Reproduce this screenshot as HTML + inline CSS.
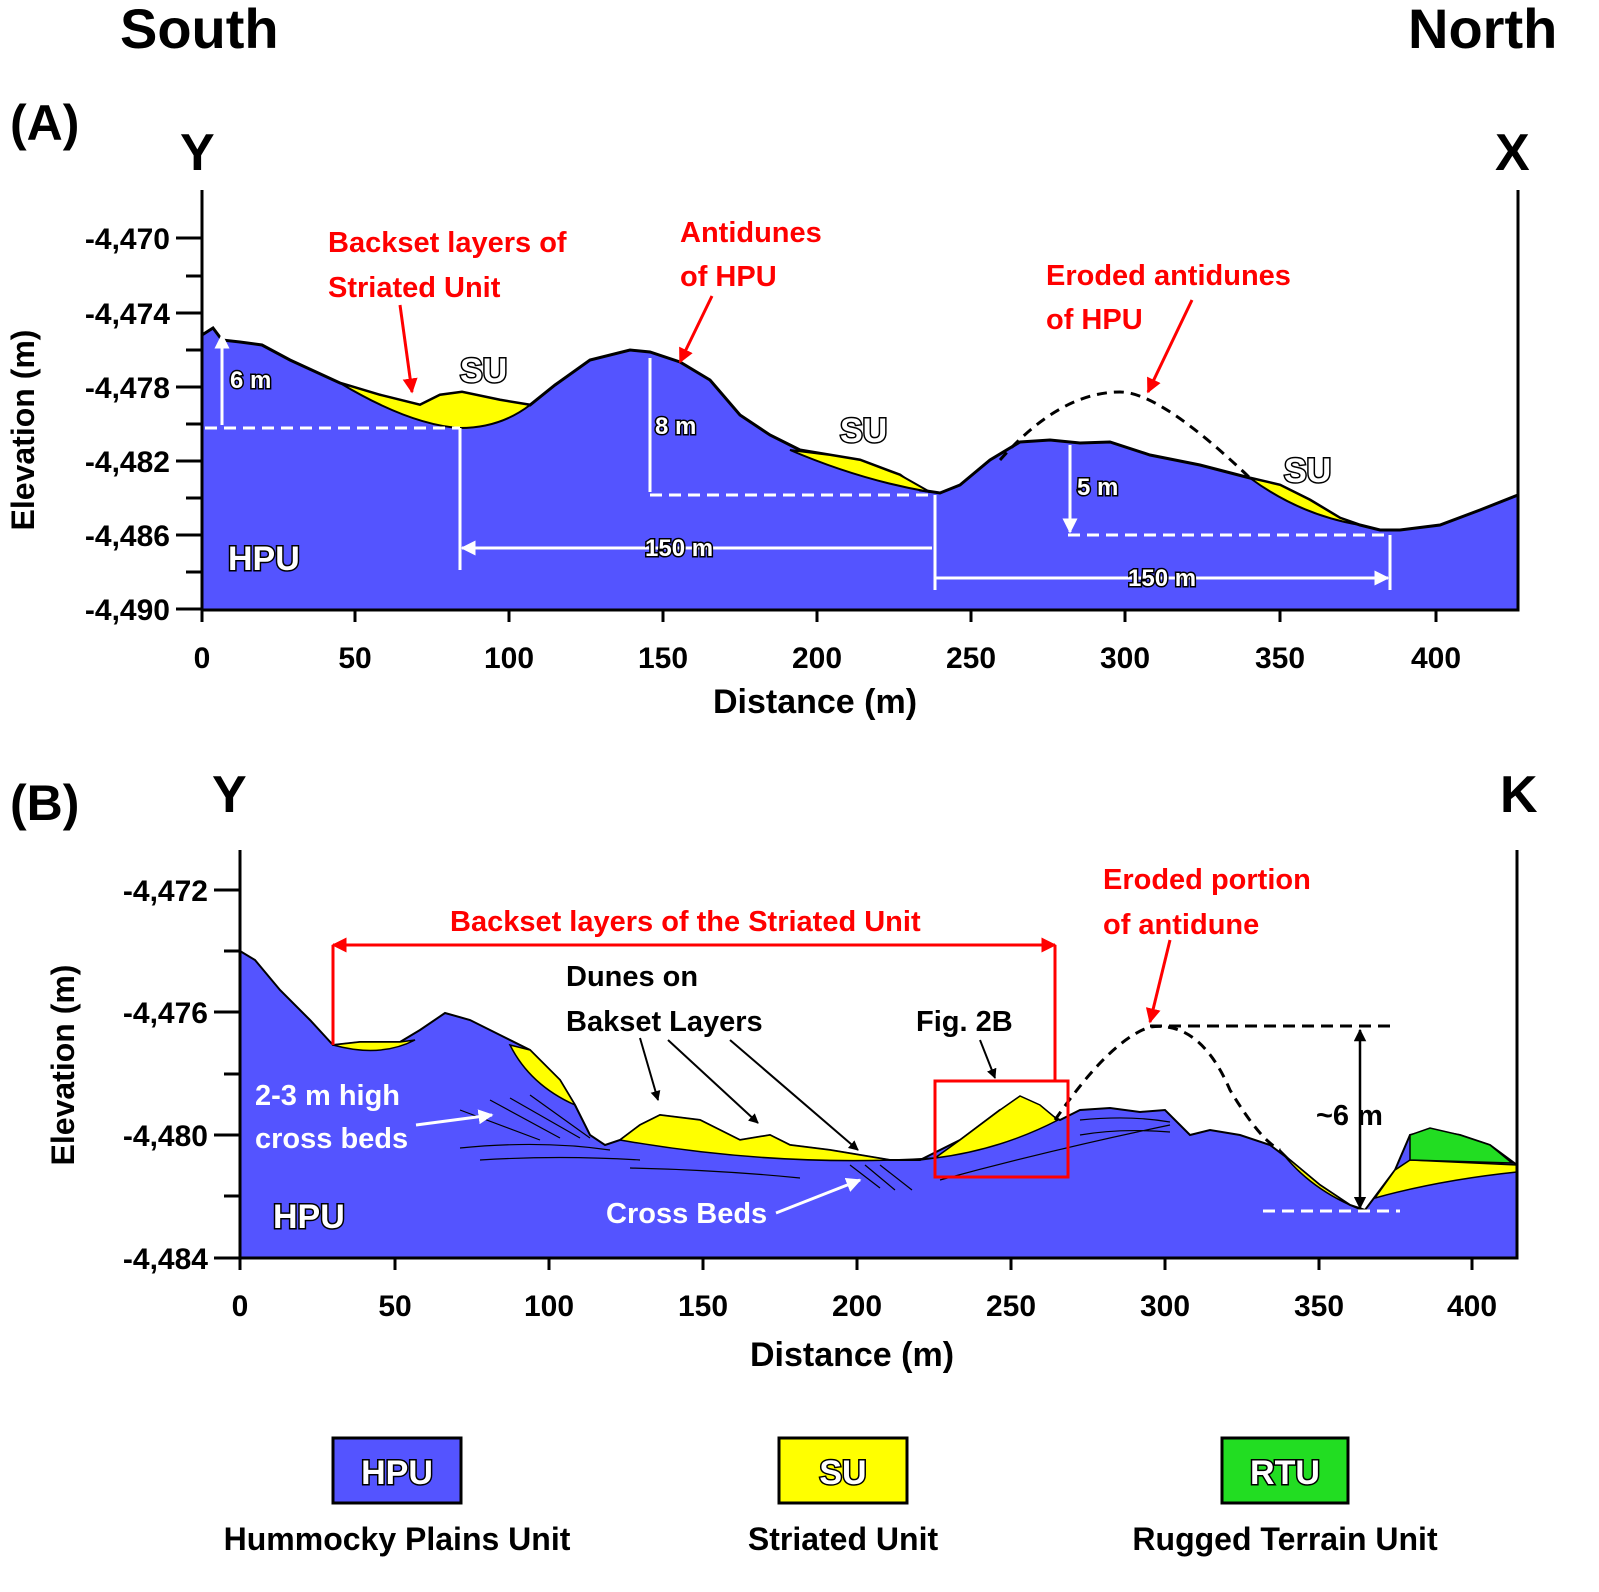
<!DOCTYPE html>
<html><head><meta charset="utf-8"><style>
html,body{margin:0;padding:0;background:#fff}
svg{display:block}
text{font-family:"Liberation Sans",sans-serif;font-weight:bold}
.t{font-size:34px;fill:#000}
.r{fill:#f00;font-size:29px}
.o{fill:#fff;stroke:#000;stroke-width:3;paint-order:stroke}
.w{fill:#fff}
</style></head><body>
<svg width="1599" height="1592" viewBox="0 0 1599 1592" xmlns="http://www.w3.org/2000/svg">
<defs>
<marker id="aw" viewBox="0 0 10 10" refX="9" refY="5" markerWidth="5" markerHeight="5" orient="auto-start-reverse"><path d="M0,0L10,5L0,10z" fill="#fff"/></marker>
<marker id="ar" viewBox="0 0 10 10" refX="9" refY="5" markerWidth="5" markerHeight="5" orient="auto-start-reverse"><path d="M0,0L10,5L0,10z" fill="#f00"/></marker>
<marker id="ab" viewBox="0 0 10 10" refX="9" refY="5" markerWidth="5" markerHeight="5" orient="auto-start-reverse"><path d="M0,0L10,5L0,10z" fill="#000"/></marker>
</defs>
<text x="120" y="48" font-size="56">South</text>
<text x="1408" y="48" font-size="56">North</text>
<text x="10" y="140" font-size="50">(A)</text>
<text x="180" y="170" font-size="52">Y</text>
<text x="1495" y="170" font-size="52">X</text>

<!-- Panel A -->
<path d="M202,335 L213,328 222,340 240,342 262,345 290,360 340,383 380,395 420,405 440,395 462,392 500,400 530,405 555,385 590,360 630,350 650,352 680,362 710,380 740,415 770,435 800,450 830,455 860,460 900,475 920,490 940,493 960,485 990,460 1020,442 1050,440 1080,443 1110,442 1150,455 1200,465 1250,478 1280,485 1310,500 1340,518 1360,525 1380,530 1400,530 1440,525 1480,510 1518,495 1518,610 202,610Z" fill="#5454ff" stroke="#000" stroke-width="3"/>
<path d="M340,383 380,395 420,405 440,395 462,392 500,400 530,405 Q500,428 460,428 Q410,425 340,383Z" fill="#ffff00" stroke="#000" stroke-width="2"/>
<path d="M790,450 830,455 860,460 900,475 930,492 Q860,480 790,450Z" fill="#ffff00" stroke="#000" stroke-width="2"/>
<path d="M1250,478 1280,485 1310,500 1340,518 1360,525 Q1300,515 1250,478Z" fill="#ffff00" stroke="#000" stroke-width="2"/>
<path d="M1000,460 Q1060,392 1120,392 Q1160,392 1250,478" fill="none" stroke="#000" stroke-width="3" stroke-dasharray="10,7"/>
<g stroke="#fff" stroke-width="3" fill="none">
<path d="M205,428H460M650,495H935M1068,535H1390" stroke-dasharray="12,7"/>
<path d="M460,428V570M935,495V590M1390,535V590"/>
<path d="M222,335V425M650,358V492M1070,445V532" marker-start="url(#aw)" marker-end="url(#aw)"/>
<path d="M462,548H932M935,578H1388" marker-start="url(#aw)" marker-end="url(#aw)"/>
</g>
<g stroke="#000" stroke-width="3" fill="none">
<path d="M202,190V610H1518V190"/>
<path d="M176,238H202M176,313H202M176,387H202M176,461H202M176,535H202M176,609H202M186,276H202M186,350H202M186,424H202M186,498H202M186,572H202"/>
<path d="M202,610V622M355,610V622M509,610V622M663,610V622M817,610V622M971,610V622M1125,610V622M1280,610V622M1436,610V622"/>
</g>
<g class="t" text-anchor="end"><text x="170" y="249" style="font-size:30px">-4,470</text><text x="170" y="324" style="font-size:30px">-4,474</text><text x="170" y="398" style="font-size:30px">-4,478</text><text x="170" y="472" style="font-size:30px">-4,482</text><text x="170" y="546" style="font-size:30px">-4,486</text><text x="170" y="620" style="font-size:30px">-4,490</text></g>
<g class="t" text-anchor="middle"><text x="202" y="668" style="font-size:30px">0</text><text x="355" y="668" style="font-size:30px">50</text><text x="509" y="668" style="font-size:30px">100</text><text x="663" y="668" style="font-size:30px">150</text><text x="817" y="668" style="font-size:30px">200</text><text x="971" y="668" style="font-size:30px">250</text><text x="1125" y="668" style="font-size:30px">300</text><text x="1280" y="668" style="font-size:30px">350</text><text x="1436" y="668" style="font-size:30px">400</text></g>
<text x="815" y="713" text-anchor="middle" class="t">Distance (m)</text>
<text transform="translate(34,430) rotate(-90)" text-anchor="middle" class="t" style="font-size:32px">Elevation (m)</text>
<text class="r" x="328" y="252">Backset layers of</text><text class="r" x="328" y="297">Striated Unit</text>
<text class="r" x="680" y="242">Antidunes</text><text class="r" x="680" y="286">of HPU</text>
<text class="r" x="1046" y="285">Eroded antidunes</text><text class="r" x="1046" y="329">of HPU</text>
<g stroke="#f00" stroke-width="3" fill="none"><path d="M400,305L412,392" marker-end="url(#ar)"/><path d="M712,296L680,362" marker-end="url(#ar)"/><path d="M1192,300L1148,392" marker-end="url(#ar)"/></g>
<g class="o" style="font-size:34px"><text x="460" y="382">SU</text><text x="840" y="442">SU</text><text x="1284" y="482">SU</text><text x="228" y="570">HPU</text></g>
<g class="o" style="font-size:24px"><text x="230" y="388">6 m</text><text x="655" y="434">8 m</text><text x="1077" y="495">5 m</text><text x="645" y="556">150 m</text><text x="1128" y="586">150 m</text></g>

<!-- Panel B -->
<text x="10" y="820" font-size="50">(B)</text>
<text x="212" y="812" font-size="52">Y</text>
<text x="1500" y="812" font-size="52">K</text>
<path d="M240,951 255,960 280,990 310,1020 333,1045 360,1042 400,1042 420,1030 445,1013 470,1020 500,1035 530,1050 560,1080 575,1105 590,1135 605,1145 620,1140 640,1125 660,1115 700,1120 740,1140 770,1135 790,1145 830,1150 860,1155 890,1160 920,1160 960,1140 1000,1110 1030,1105 1060,1120 1080,1110 1110,1108 1140,1112 1165,1110 1180,1125 1190,1135 1210,1130 1240,1135 1270,1145 1290,1160 1320,1185 1350,1205 1365,1210 1380,1190 1395,1170 1410,1135 1430,1130 1460,1135 1490,1145 1517,1165 1517,1258 240,1258Z" fill="#5454ff" stroke="#000" stroke-width="2"/>
<g fill="#ffff00" stroke="#000" stroke-width="1.5">
<path d="M333,1045 360,1042 400,1042 415,1040 Q380,1058 333,1045Z"/>
<path d="M510,1045 530,1050 560,1080 575,1105 Q530,1085 510,1045Z"/>
<path d="M620,1140 640,1125 660,1115 700,1120 740,1140 770,1135 790,1145 830,1150 860,1155 890,1160 920,1160 935,1158 Q780,1168 620,1140Z"/>
<path d="M935,1158 960,1140 1000,1110 1020,1096 1040,1105 1058,1120 Q1000,1150 935,1158Z"/>
<path d="M1280,1150 1290,1160 1320,1185 1350,1205 1362,1210 Q1310,1190 1280,1150Z"/>
<path d="M1375,1198 1395,1170 1410,1160 1517,1165 1517,1172 Q1440,1180 1375,1198Z"/>
</g>
<path d="M1410,1160 1410,1135 1430,1128 1460,1135 1490,1145 1512,1163Z" fill="#22dd22" stroke="#000" stroke-width="1.5"/>
<g stroke="#000" stroke-width="1.2" fill="none">
<path d="M460,1148Q540,1140 610,1150M480,1160Q560,1155 640,1160M630,1168Q720,1170 800,1178M940,1180Q1050,1150 1170,1125M1080,1135Q1120,1128 1170,1132M1080,1120Q1130,1115 1170,1122M490,1100L560,1138M510,1098L580,1138M530,1095L590,1138M460,1110L540,1140M850,1165L880,1188M865,1165L895,1190M880,1165L912,1190"/>
</g>
<path d="M1055,1120 Q1110,1040 1150,1027 Q1200,1020 1230,1090 Q1260,1140 1280,1150" fill="none" stroke="#000" stroke-width="3" stroke-dasharray="10,7"/>
<path d="M1150,1026H1392" stroke="#000" stroke-width="3" stroke-dasharray="12,7"/>
<path d="M1263,1211H1400" stroke="#fff" stroke-width="3" stroke-dasharray="12,7"/>
<path d="M1360,1030V1208" stroke="#000" stroke-width="2.5" marker-start="url(#ab)" marker-end="url(#ab)"/>
<rect x="935" y="1081" width="133" height="96" fill="none" stroke="#f00" stroke-width="3"/>
<g stroke="#f00" stroke-width="3" fill="none"><path d="M333,945H1055" marker-start="url(#ar)" marker-end="url(#ar)"/><path d="M333,945V1045M1055,945V1081"/><path d="M1170,940L1150,1022" marker-end="url(#ar)"/></g>
<text class="r" x="450" y="931">Backset layers of the Striated Unit</text>
<text class="r" x="1103" y="889">Eroded portion</text><text class="r" x="1103" y="934">of antidune</text>
<g style="font-size:29px" fill="#000"><text x="566" y="986">Dunes on</text><text x="566" y="1031">Bakset Layers</text><text x="916" y="1031">Fig. 2B</text><text x="1316" y="1125">~6 m</text></g>
<g stroke="#000" stroke-width="2" fill="none"><path d="M640,1038L658,1100" marker-end="url(#ab)"/><path d="M668,1040L758,1123" marker-end="url(#ab)"/><path d="M730,1040L858,1150" marker-end="url(#ab)"/><path d="M980,1040L995,1078" marker-end="url(#ab)"/></g>
<g class="w" style="font-size:29px"><text x="255" y="1105">2-3 m high</text><text x="255" y="1148">cross beds</text><text x="606" y="1223">Cross Beds</text></g>
<g stroke="#fff" stroke-width="3" fill="none"><path d="M416,1125L492,1115" marker-end="url(#aw)"/><path d="M776,1213L860,1180" marker-end="url(#aw)"/></g>
<text class="o" x="273" y="1228" style="font-size:34px">HPU</text>
<g stroke="#000" stroke-width="3" fill="none">
<path d="M240,850V1258H1517V850"/>
<path d="M214,890H240M214,1012H240M214,1135H240M214,1258H240M224,951H240M224,1074H240M224,1196H240"/>
<path d="M240,1258V1270M395,1258V1270M549,1258V1270M703,1258V1270M857,1258V1270M1011,1258V1270M1165,1258V1270M1319,1258V1270M1472,1258V1270"/>
</g>
<g class="t" text-anchor="end"><text x="208" y="901" style="font-size:30px">-4,472</text><text x="208" y="1023" style="font-size:30px">-4,476</text><text x="208" y="1146" style="font-size:30px">-4,480</text><text x="208" y="1269" style="font-size:30px">-4,484</text></g>
<g class="t" text-anchor="middle"><text x="240" y="1316" style="font-size:30px">0</text><text x="395" y="1316" style="font-size:30px">50</text><text x="549" y="1316" style="font-size:30px">100</text><text x="703" y="1316" style="font-size:30px">150</text><text x="857" y="1316" style="font-size:30px">200</text><text x="1011" y="1316" style="font-size:30px">250</text><text x="1165" y="1316" style="font-size:30px">300</text><text x="1319" y="1316" style="font-size:30px">350</text><text x="1472" y="1316" style="font-size:30px">400</text></g>
<text x="852" y="1366" text-anchor="middle" class="t">Distance (m)</text>
<text transform="translate(74,1065) rotate(-90)" text-anchor="middle" class="t" style="font-size:32px">Elevation (m)</text>

<!-- Legend -->
<rect x="333" y="1438" width="128" height="65" fill="#5454ff" stroke="#000" stroke-width="3"/>
<rect x="779" y="1438" width="128" height="65" fill="#ffff00" stroke="#000" stroke-width="3"/>
<rect x="1222" y="1438" width="126" height="65" fill="#22dd22" stroke="#000" stroke-width="3"/>
<g class="o" text-anchor="middle" style="font-size:34px"><text x="397" y="1484">HPU</text><text x="843" y="1484">SU</text><text x="1285" y="1484">RTU</text></g>
<g class="t" text-anchor="middle" style="font-size:32px"><text x="397" y="1550" style="font-size:32px">Hummocky Plains Unit</text><text x="843" y="1550" style="font-size:32px">Striated Unit</text><text x="1285" y="1550" style="font-size:32px">Rugged Terrain Unit</text></g>
</svg>
</body></html>
